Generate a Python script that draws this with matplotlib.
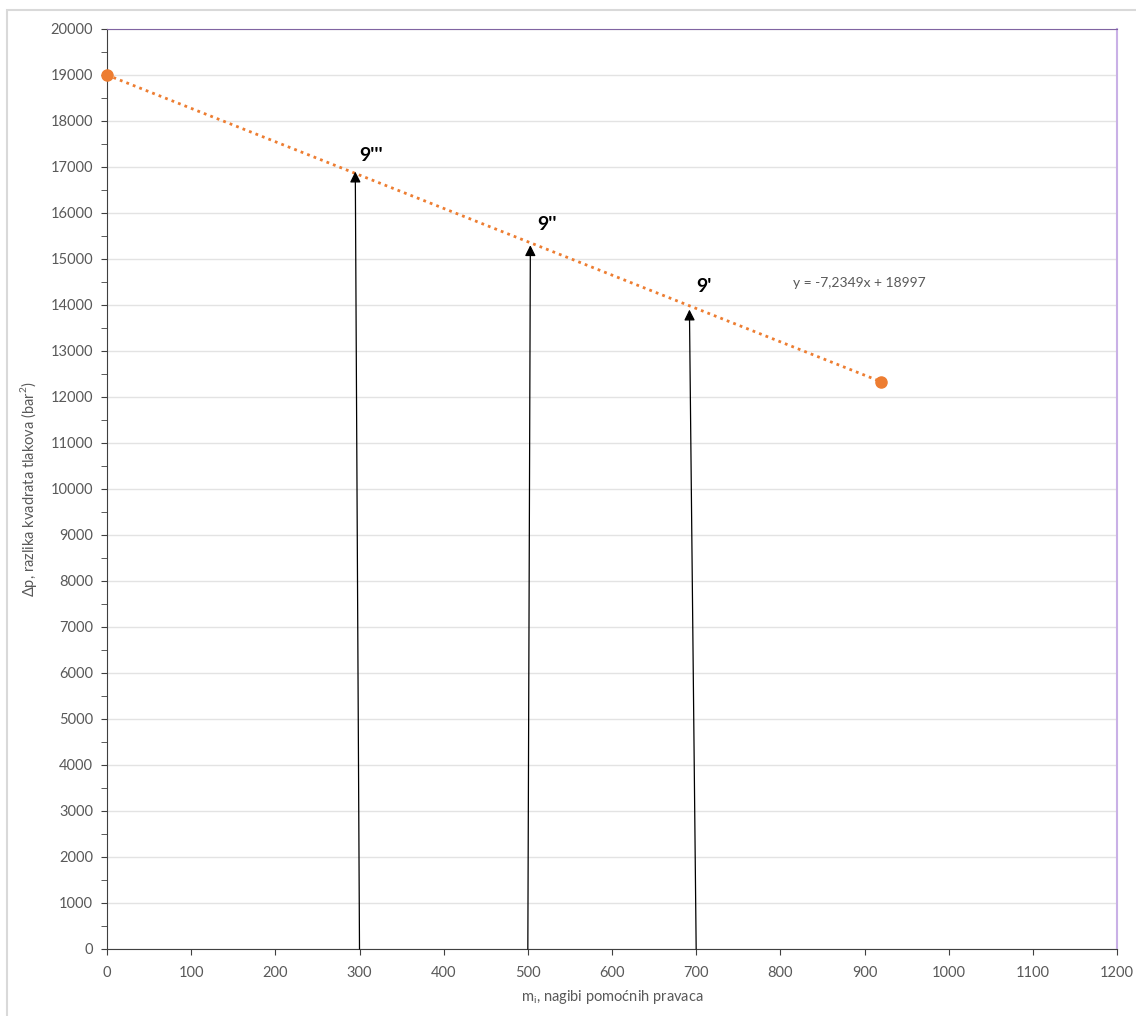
import matplotlib.pyplot as plt
from matplotlib.patches import Rectangle

plt.rcParams['font.family'] = ['Lato', 'DejaVu Sans']

# trend line end points (orange)
line_x = [0, 920]
line_y = [19000, 12330]
equation = 'y = -7,2349x + 18997'

# arrows: start on x axis, tip on the trend line
arrow_names = ["9'''", "9''", "9'"]
arrow_x0 = [300, 500, 700]
arrow_x1 = [295, 503, 692]
arrow_y1 = [16900, 15300, 13900]
label_xy = [(300, 17260), (511, 15760), (700, 14410)]

orange = '#ED7D31'
gray_txt = '#595959'

fig = plt.figure(figsize=(11.36, 10.16), dpi=100)
fig.patches.append(Rectangle((7 / 1136, -0.1), 1.2, (1016 - 10) / 1016 + 0.1,
                             transform=fig.transFigure, fill=False,
                             edgecolor='#d9d9d9', linewidth=1.5))
ax = fig.add_axes([107 / 1136, 67 / 1016, 1010 / 1136, 920 / 1016])

ax.set_xlim(0, 1200)
ax.set_ylim(0, 20000)
ax.set_xticks(range(0, 1201, 100))
ax.set_yticks(range(0, 20001, 1000))
ax.set_yticks(range(500, 20000, 1000), minor=True)
ax.grid(axis='y', color='#e3e3e3', linewidth=1)
ax.set_axisbelow(True)

ax.spines['left'].set_color('#404040')
ax.spines['bottom'].set_color('#404040')
ax.spines['top'].set_color('#8064a2')
ax.spines['right'].set_color('#c9b0e6')
ax.spines['right'].set_linewidth(1.5)
ax.tick_params(axis='both', which='both', color='#404040', labelcolor=gray_txt,
               labelsize=10.5, length=4)
ax.tick_params(axis='x', pad=8)
ax.tick_params(axis='y', pad=6)

ax.plot(line_x, line_y, color=orange, linestyle=(0, (1, 1.5)), linewidth=2)
ax.plot(line_x, line_y, 'o', color=orange, markersize=8, clip_on=False, zorder=5)

for name, x0, x1, y1, (lx, ly) in zip(arrow_names, arrow_x0, arrow_x1, arrow_y1, label_xy):
    ax.annotate('', xy=(x1, y1), xytext=(x0, 0),
                arrowprops=dict(arrowstyle='-|>', color='black', lw=0.9,
                                mutation_scale=16, shrinkA=0, shrinkB=0))
    ax.text(lx, ly, name, fontsize=14, fontweight='bold', ha='left', va='center')

ax.text(815, 14480, equation, fontsize=10, color=gray_txt, ha='left', va='center')

ax.set_xlabel('m$_\\mathregular{i}$, nagibi pomoćnih pravaca', color=gray_txt, fontsize=10.5, labelpad=6)
ax.set_ylabel('Δp, razlika kvadrata tlakova (bar$^\\mathregular{2}$)', color=gray_txt,
              fontsize=10.5, labelpad=8)

fig.savefig('out.png', dpi=100)
